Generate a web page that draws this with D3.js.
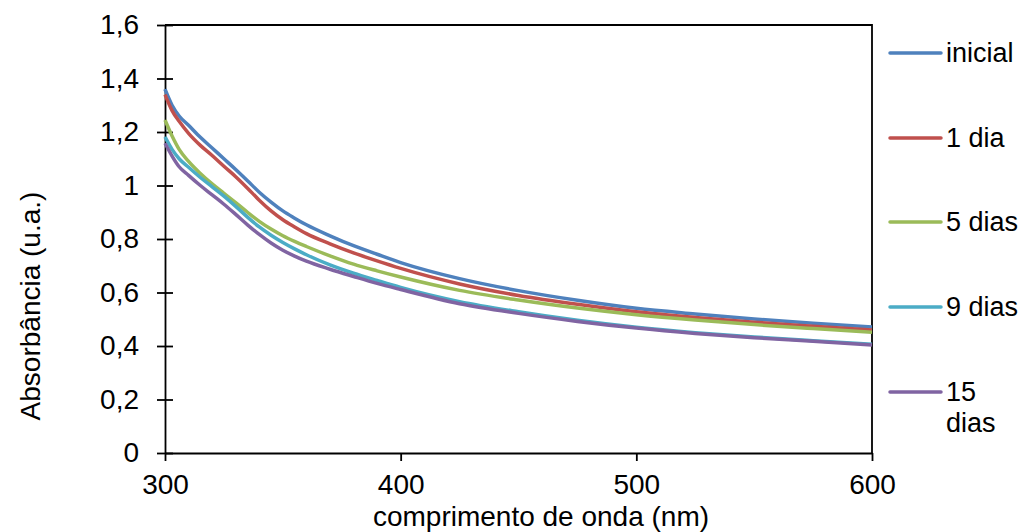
<!DOCTYPE html>
<html>
<head>
<meta charset="utf-8">
<script src="https://cdn.jsdelivr.net/npm/d3@7"></script>
<style>
  body { margin: 0; background: #fff; }
  svg { display: block; font-family: "Liberation Sans", Arial, sans-serif; }
</style>
</head>
<body>
<div id="chart"></div>
<script>
const wavelengths = [300, 303, 306, 310, 315, 320, 325, 330, 335, 340, 345, 350, 355, 360, 370, 380, 390, 400, 425, 450, 475, 500, 525, 550, 575, 600];

const inicial = [1.36, 1.30, 1.26, 1.225, 1.18, 1.14, 1.10, 1.06, 1.018, 0.975, 0.938, 0.905, 0.878, 0.853, 0.812, 0.775, 0.743, 0.712, 0.652, 0.607, 0.571, 0.541, 0.52, 0.501, 0.485, 0.471];
const dia1    = [1.34, 1.28, 1.24, 1.195, 1.15, 1.112, 1.072, 1.033, 0.99, 0.945, 0.905, 0.872, 0.845, 0.82, 0.782, 0.748, 0.718, 0.69, 0.632, 0.589, 0.556, 0.528, 0.507, 0.489, 0.474, 0.46];
const dias5   = [1.245, 1.185, 1.135, 1.09, 1.045, 1.006, 0.971, 0.936, 0.9, 0.866, 0.837, 0.812, 0.791, 0.772, 0.737, 0.706, 0.681, 0.658, 0.608, 0.572, 0.542, 0.517, 0.497, 0.48, 0.465, 0.451];
const dias9   = [1.182, 1.135, 1.1, 1.068, 1.03, 0.995, 0.96, 0.922, 0.882, 0.845, 0.814, 0.787, 0.763, 0.741, 0.703, 0.672, 0.645, 0.619, 0.566, 0.528, 0.496, 0.47, 0.45, 0.434, 0.42, 0.407];
const dias15  = [1.158, 1.11, 1.07, 1.038, 1.0, 0.965, 0.93, 0.892, 0.853, 0.817, 0.785, 0.758, 0.736, 0.717, 0.687, 0.66, 0.634, 0.611, 0.558, 0.522, 0.492, 0.467, 0.447, 0.431, 0.418, 0.404];

const seriesNames = ["inicial", "1 dia", "5 dias", "9 dias", "15 dias"];
const seriesValues = [inicial, dia1, dias5, dias9, dias15];
const seriesColors = ["#4F81BD", "#C0504D", "#9BBB59", "#4BACC6", "#8064A2"];

const xTicks = [300, 400, 500, 600];
const yTicks = [0, 0.2, 0.4, 0.6, 0.8, 1, 1.2, 1.4, 1.6];

const width = 1020, height = 532;
const plot = { left: 165, right: 872, top: 25, bottom: 453 };
const font = "Liberation Sans, Arial, sans-serif";

const svg = d3.select("#chart").append("svg")
  .attr("width", width)
  .attr("height", height);

const x = d3.scaleLinear().domain([300, 600]).range([plot.left, plot.right]);
const y = d3.scaleLinear().domain([0, 1.6]).range([plot.bottom, plot.top]);

const pt = d3.formatLocale({ decimal: ",", thousands: ".", grouping: [3], currency: ["", ""] });
const fmt = pt.format("~g");

// frame (top and right)
svg.append("path")
  .attr("d", `M${plot.left},${plot.top}H${plot.right}V${plot.bottom}`)
  .attr("fill", "none")
  .attr("stroke", "#000")
  .attr("stroke-width", 1.8);

// y axis
const yAxis = svg.append("g")
  .attr("transform", `translate(${plot.left},0)`)
  .call(d3.axisLeft(y).tickValues(yTicks).tickFormat(fmt).tickSize(8).tickSizeOuter(0).tickPadding(18));
yAxis.select(".domain").attr("stroke-width", 1.8);
yAxis.selectAll(".tick line").attr("x2", 8).attr("x1", -8).attr("stroke-width", 1.8);
yAxis.selectAll("text").attr("font-size", 28).attr("font-family", font).attr("fill", "#000");

// x axis
const xAxis = svg.append("g")
  .attr("transform", `translate(0,${plot.bottom})`)
  .call(d3.axisBottom(x).tickValues(xTicks).tickFormat(d3.format("d")).tickSize(8).tickSizeOuter(0).tickPadding(13));
xAxis.select(".domain").attr("stroke-width", 1.8);
xAxis.selectAll(".tick line").attr("stroke-width", 1.8);
xAxis.selectAll("text").attr("font-size", 28).attr("font-family", font).attr("fill", "#000");

// curves
const line = d3.line()
  .x((d, i) => x(wavelengths[i]))
  .y(d => y(d))
  .curve(d3.curveMonotoneX);

svg.append("g")
  .selectAll("path")
  .data(seriesValues)
  .join("path")
  .attr("d", line)
  .attr("fill", "none")
  .attr("stroke", (d, i) => seriesColors[i])
  .attr("stroke-width", 3.5)
  .attr("stroke-linejoin", "round");

// legend
const legendY = [53, 138, 222, 307, 392];
const legend = svg.append("g");
seriesNames.forEach((name, i) => {
  legend.append("line")
    .attr("x1", 890).attr("x2", 941)
    .attr("y1", legendY[i]).attr("y2", legendY[i])
    .attr("stroke", seriesColors[i])
    .attr("stroke-width", 3.5)
    .attr("stroke-linecap", "round");
  const words = name === "15 dias" ? ["15", "dias"] : [name];
  const t = legend.append("text")
    .attr("x", 946)
    .attr("y", legendY[i] + 9)
    .attr("font-size", 27)
    .attr("fill", "#000");
  words.forEach((w, j) => {
    t.append("tspan").attr("x", 946).attr("dy", j === 0 ? 0 : 31).text(w);
  });
});

// axis titles
svg.append("text")
  .attr("x", 541)
  .attr("y", 526)
  .attr("text-anchor", "middle")
  .attr("font-size", 28)
  .text("comprimento de onda (nm)");

svg.append("text")
  .attr("transform", "translate(40,306) rotate(-90)")
  .attr("text-anchor", "middle")
  .attr("font-size", 28)
  .text("Absorbância (u.a.)");
</script>
</body>
</html>
